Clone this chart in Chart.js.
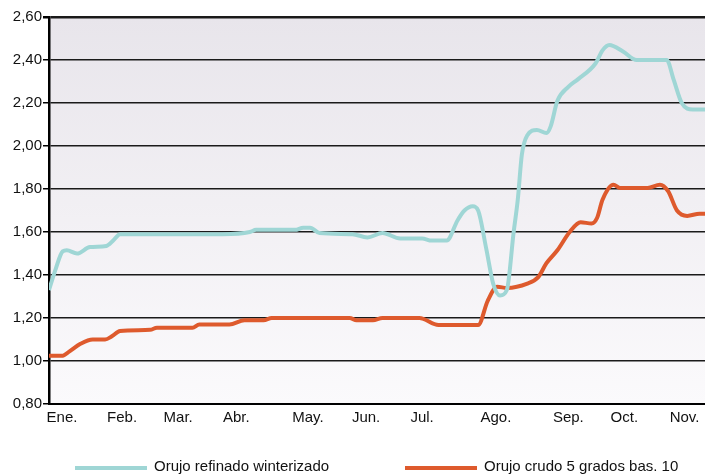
<!DOCTYPE html>
<html>
<head>
<meta charset="utf-8">
<script src="https://cdn.jsdelivr.net/npm/chart.js@4"></script>
<style>
  html, body { margin: 0; padding: 0; background: #fff; }
  #wrap { width: 705px; height: 475px; position: relative; }
</style>
</head>
<body>
<div id="wrap"><canvas id="precios"></canvas></div>
<script>
// posiciones en semanas (0 = inicio de enero)
const mesPos = [0.95, 5.35, 9.45, 13.7, 18.95, 23.2, 27.3, 32.7, 38.0, 42.1, 46.5];
const mesLabels = ['Ene.', 'Feb.', 'Mar.', 'Abr.', 'May.', 'Jun.', 'Jul.', 'Ago.', 'Sep.', 'Oct.', 'Nov.'];

// Orujo refinado winterizado
const refinadoX = [0, 0.5, 1.0, 1.3, 2.05, 3.0, 4.2, 4.7, 5.2, 12.7, 14.7, 15.15, 18.0, 18.6, 19.1, 19.8, 22.2, 23.3, 24.4, 25.7, 27.3, 28.0, 29.1, 29.9, 30.4, 31.0, 31.4, 32.0, 32.5, 33.0, 33.5, 34.0, 34.3, 34.6, 35.0, 35.7, 36.4, 36.7, 37.2, 38.0, 38.7, 40.0, 40.5, 41.0, 42.0, 43.0, 45.2, 45.7, 46.3, 47.1, 48];
const refinado = [1.33, 1.43, 1.51, 1.515, 1.50, 1.53, 1.535, 1.56, 1.59, 1.59, 1.60, 1.61, 1.61, 1.62, 1.62, 1.595, 1.59, 1.575, 1.595, 1.57, 1.57, 1.56, 1.56, 1.655, 1.70, 1.72, 1.70, 1.52, 1.36, 1.305, 1.33, 1.60, 1.75, 1.96, 2.05, 2.075, 2.06, 2.09, 2.21, 2.275, 2.31, 2.385, 2.445, 2.47, 2.44, 2.40, 2.40, 2.31, 2.20, 2.17, 2.17];

// Orujo crudo 5 grados bas. 10
const crudoX = [0, 1.0, 1.5, 2.3, 3.2, 4.1, 4.6, 5.2, 7.4, 7.9, 10.5, 11.0, 13.2, 14.3, 15.7, 16.3, 22.0, 22.5, 23.7, 24.4, 27.1, 28.5, 31.4, 32.1, 32.8, 33.5, 35.0, 35.8, 36.4, 37.2, 38.1, 38.9, 39.7, 40.1, 40.5, 41.3, 41.8, 43.8, 44.7, 45.3, 45.95, 46.7, 47.6, 48];
const crudo = [1.025, 1.025, 1.045, 1.08, 1.10, 1.10, 1.115, 1.14, 1.145, 1.155, 1.155, 1.17, 1.17, 1.19, 1.19, 1.20, 1.20, 1.19, 1.19, 1.20, 1.20, 1.167, 1.167, 1.28, 1.345, 1.34, 1.36, 1.39, 1.455, 1.515, 1.60, 1.645, 1.64, 1.665, 1.75, 1.82, 1.805, 1.805, 1.82, 1.79, 1.70, 1.675, 1.685, 1.685];

const FONT = '"Liberation Sans", Arial, sans-serif';

const toPoints = (xs, ys) => xs.map((x, i) => ({ x: x, y: ys[i] }));

// fondo degradado del área del gráfico
const fondo = {
    id: 'fondo',
    beforeDraw(chart) {
        const { ctx, chartArea: a } = chart;
        const g = ctx.createLinearGradient(0, a.top, 0, a.bottom);
        g.addColorStop(0, '#e8e5eb');
        g.addColorStop(1, '#fbfafc');
        ctx.save();
        ctx.fillStyle = g;
        ctx.fillRect(a.left, a.top, a.right - a.left, a.bottom - a.top);
        ctx.restore();
    }
};

// leyenda con línea, debajo del gráfico
const leyenda = {
    id: 'leyenda',
    afterDraw(chart) {
        const ctx = chart.ctx;
        const xs = [75, 405];
        const y = 468;
        ctx.save();
        chart.data.datasets.forEach((ds, i) => {
            ctx.strokeStyle = ds.borderColor;
            ctx.lineWidth = 4;
            ctx.beginPath();
            ctx.moveTo(xs[i], y);
            ctx.lineTo(xs[i] + 72, y);
            ctx.stroke();
            ctx.fillStyle = '#111';
            ctx.font = '15px ' + FONT;
            ctx.textBaseline = 'middle';
            ctx.fillText(ds.label, xs[i] + 79, y - 1);
        });
        ctx.restore();
    }
};

new Chart(document.getElementById('precios'), {
    type: 'line',
    data: {
        datasets: [{
            label: 'Orujo refinado winterizado',
            data: toPoints(refinadoX, refinado),
            borderColor: '#9fd6d5',
            borderWidth: 4,
            pointRadius: 0,
            cubicInterpolationMode: 'monotone'
        }, {
            label: 'Orujo crudo 5 grados bas. 10',
            data: toPoints(crudoX, crudo),
            borderColor: '#de5a2d',
            borderWidth: 4,
            pointRadius: 0,
            cubicInterpolationMode: 'monotone'
        }]
    },
    options: {
        responsive: true,
        maintainAspectRatio: false,
        animation: false,
        layout: { padding: { top: 17, right: 0, bottom: 0, left: 0 } },
        plugins: { legend: { display: false }, tooltip: { enabled: false } },
        scales: {
            x: {
                type: 'linear',
                min: 0,
                max: 48,
                afterBuildTicks: (scale) => { scale.ticks = mesPos.map(v => ({ value: v })); },
                afterFit: (scale) => { scale.height = 71; },
                grid: { display: false, drawTicks: false },
                border: { display: true, color: '#000', width: 2 },
                ticks: {
                    autoSkip: false,
                    maxRotation: 0,
                    padding: 5,
                    color: '#111',
                    font: { family: FONT, size: 15 },
                    callback: (v, i) => mesLabels[i]
                }
            },
            y: {
                min: 0.8,
                max: 2.6,
                afterFit: (scale) => { scale.width = 49; },
                grid: {
                    color: '#1a1a1a',
                    lineWidth: (c) => (c.tick && Math.abs(c.tick.value - 2.6) < 0.001 ? 2.5 : 1.5),
                    tickLength: 6,
                    tickColor: '#000'
                },
                border: { display: true, color: '#000', width: 2.5 },
                ticks: {
                    stepSize: 0.2,
                    padding: 1,
                    color: '#111',
                    font: { family: FONT, size: 15 },
                    callback: (v) => v.toFixed(2).replace('.', ',')
                }
            }
        }
    },
    plugins: [fondo, leyenda]
});
</script>
</body>
</html>
